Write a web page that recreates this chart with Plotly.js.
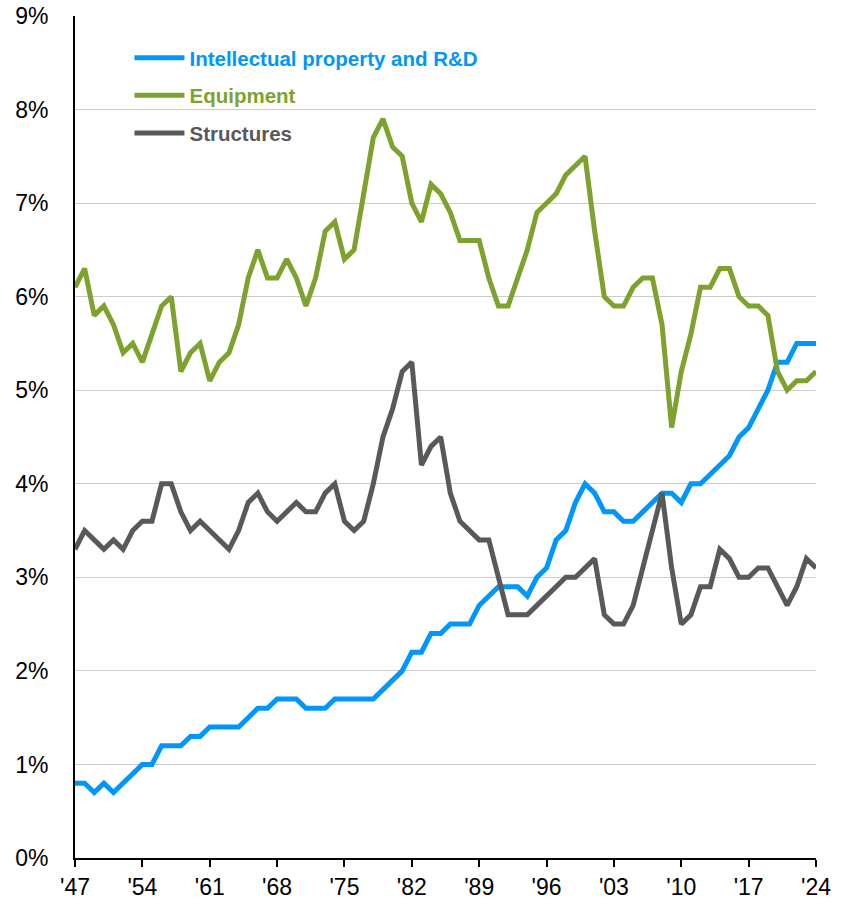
<!DOCTYPE html>
<html>
<head>
<meta charset="utf-8">
<script src="https://cdn.plot.ly/plotly-3.0.1.min.js"></script>
<style>html,body{margin:0;padding:0;background:#fff;}#chart{width:846px;height:903px;}</style>
</head>
<body>
<div id="chart"></div>
<script>
const years = [1947,1948,1949,1950,1951,1952,1953,1954,1955,1956,1957,1958,1959,1960,1961,1962,1963,1964,1965,1966,1967,1968,1969,1970,1971,1972,1973,1974,1975,1976,1977,1978,1979,1980,1981,1982,1983,1984,1985,1986,1987,1988,1989,1990,1991,1992,1993,1994,1995,1996,1997,1998,1999,2000,2001,2002,2003,2004,2005,2006,2007,2008,2009,2010,2011,2012,2013,2014,2015,2016,2017,2018,2019,2020,2021,2022,2023,2024];

const ipRD = [0.8,0.8,0.7,0.8,0.7,0.8,0.9,1.0,1.0,1.2,1.2,1.2,1.3,1.3,1.4,1.4,1.4,1.4,1.5,1.6,1.6,1.7,1.7,1.7,1.6,1.6,1.6,1.7,1.7,1.7,1.7,1.7,1.8,1.9,2.0,2.2,2.2,2.4,2.4,2.5,2.5,2.5,2.7,2.8,2.9,2.9,2.9,2.8,3.0,3.1,3.4,3.5,3.8,4.0,3.9,3.7,3.7,3.6,3.6,3.7,3.8,3.9,3.9,3.8,4.0,4.0,4.1,4.2,4.3,4.5,4.6,4.8,5.0,5.3,5.3,5.5,5.5,5.5];

const equipment = [6.1,6.3,5.8,5.9,5.7,5.4,5.5,5.3,5.6,5.9,6.0,5.2,5.4,5.5,5.1,5.3,5.4,5.7,6.2,6.5,6.2,6.2,6.4,6.2,5.9,6.2,6.7,6.8,6.4,6.5,7.1,7.7,7.9,7.6,7.5,7.0,6.8,7.2,7.1,6.9,6.6,6.6,6.6,6.2,5.9,5.9,6.2,6.5,6.9,7.0,7.1,7.3,7.4,7.5,6.7,6.0,5.9,5.9,6.1,6.2,6.2,5.7,4.6,5.2,5.6,6.1,6.1,6.3,6.3,6.0,5.9,5.9,5.8,5.2,5.0,5.1,5.1,5.2];

const structures = [3.3,3.5,3.4,3.3,3.4,3.3,3.5,3.6,3.6,4.0,4.0,3.7,3.5,3.6,3.5,3.4,3.3,3.5,3.8,3.9,3.7,3.6,3.7,3.8,3.7,3.7,3.9,4.0,3.6,3.5,3.6,4.0,4.5,4.8,5.2,5.3,4.2,4.4,4.5,3.9,3.6,3.5,3.4,3.4,3.0,2.6,2.6,2.6,2.7,2.8,2.9,3.0,3.0,3.1,3.2,2.6,2.5,2.5,2.7,3.1,3.5,3.9,3.1,2.5,2.6,2.9,2.9,3.3,3.2,3.0,3.0,3.1,3.1,2.9,2.7,2.9,3.2,3.1];

const seriesNames = ["Intellectual property and R&D", "Equipment", "Structures"];
const seriesColors = ["#0096FA", "#7DA32E", "#58595B"];

const xTickVals = [1947,1954,1961,1968,1975,1982,1989,1996,2003,2010,2017,2024];
const xTickText = ["'47","'54","'61","'68","'75","'82","'89","'96","'03","'10","'17","'24"];
const yTickVals = [0,1,2,3,4,5,6,7,8,9];
const yTickText = ["0%","1%","2%","3%","4%","5%","6%","7%","8%","9%"];

const allSeries = [ipRD, equipment, structures];
const traces = allSeries.map((vals, i) => ({
  x: years,
  y: vals,
  type: 'scatter',
  mode: 'lines',
  name: '<b><span style="color:' + seriesColors[i] + '">' + seriesNames[i] + '</span></b>',
  legendgroup: 'g' + i,
  line: {color: seriesColors[i], width: 5, shape: 'linear'},
  hoverinfo: 'x+y'
}));

const layout = {
  width: 846,
  height: 903,
  margin: {l: 75, r: 30, t: 16, b: 45},
  paper_bgcolor: '#ffffff',
  plot_bgcolor: '#ffffff',
  font: {family: 'Arial, "Liberation Sans", sans-serif', color: '#000000', size: 22},
  showlegend: true,
  legend: {
    x: 0.0735, y: 0.974, xanchor: 'left', yanchor: 'top',
    bgcolor: 'rgba(0,0,0,0)', borderwidth: 0,
    font: {size: 20.5, family: 'Arial, "Liberation Sans", sans-serif'},
    itemwidth: 50,
    tracegroupgap: 8,
    traceorder: 'grouped'
  },
  xaxis: {
    range: [1947, 2024],
    tickmode: 'array', tickvals: xTickVals, ticktext: xTickText,
    ticks: 'outside', ticklen: 7, tickwidth: 2, tickcolor: '#000000',
    showline: true, linecolor: '#000000', linewidth: 2,
    showgrid: false, zeroline: false,
    tickfont: {size: 23, color: '#000000'},
    fixedrange: true
  },
  yaxis: {
    range: [0, 9],
    tickmode: 'array', tickvals: yTickVals, ticktext: yTickText,
    ticks: '', ticklabelstandoff: 20,
    showline: true, linecolor: '#000000', linewidth: 2,
    showgrid: true, gridcolor: '#CCCCCC', gridwidth: 1,
    zeroline: false,
    tickfont: {size: 23, color: '#000000'},
    fixedrange: true
  }
};

Plotly.newPlot('chart', traces, layout, {displayModeBar: false, staticPlot: true});
</script>
</body>
</html>
